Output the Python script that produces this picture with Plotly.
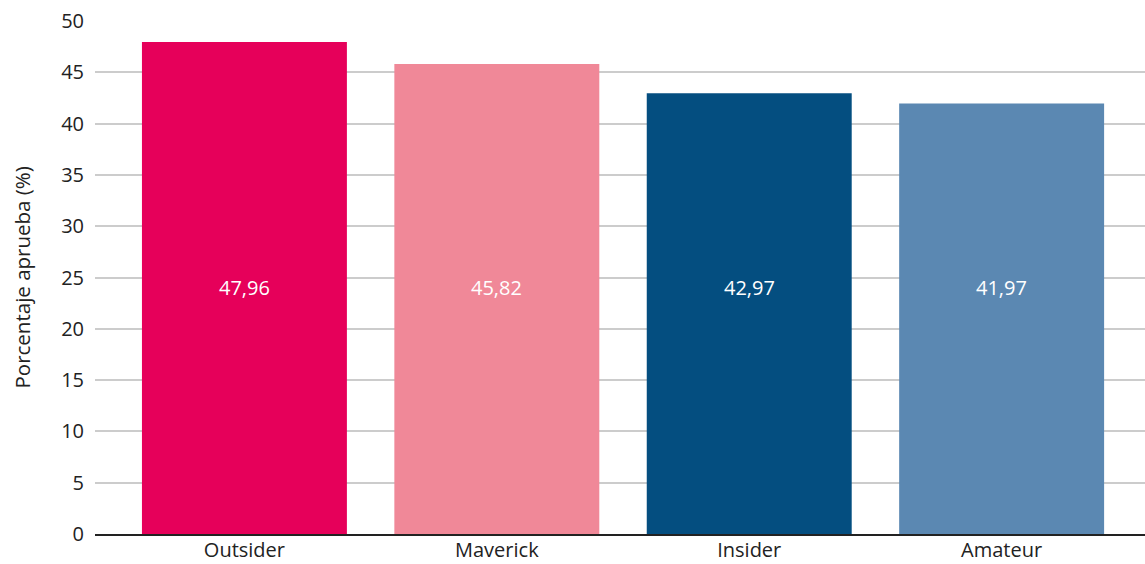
import plotly.graph_objects as go

categorias = ["Outsider", "Maverick", "Insider", "Amateur"]
porcentajes = [47.96, 45.82, 42.97, 41.97]
colores = ["#E6005A", "#F08898", "#044E80", "#5B88B2"]
y_ticks = [0, 5, 10, 15, 20, 25, 30, 35, 40, 45, 50]

FONT = "Open Sans"
TEXT_COLOR = "#222222"

fig = go.Figure(
    go.Bar(
        x=categorias,
        y=porcentajes,
        marker=dict(color=colores, line=dict(width=0)),
        showlegend=False,
        hoverinfo="skip",
    )
)

# value labels, all drawn on one common line inside the bars
nivel_etiquetas = max(porcentajes) / 2
for cat, val in zip(categorias, porcentajes):
    fig.add_annotation(
        x=cat,
        y=nivel_etiquetas,
        text=f"{val:.2f}".replace(".", ","),
        showarrow=False,
        xanchor="center",
        yanchor="middle",
        font=dict(family=FONT, size=20, color="white"),
    )

# rotated y-axis title
fig.add_annotation(
    xref="paper",
    yref="paper",
    x=(21 - 95) / 1050,
    y=0.5,
    text="Porcentaje aprueba (%)",
    textangle=-90,
    showarrow=False,
    xanchor="center",
    yanchor="middle",
    font=dict(family=FONT, size=20.5, color=TEXT_COLOR),
)

fig.update_layout(
    width=1145,
    height=564,
    margin=dict(l=95, r=0, t=21, b=30),
    paper_bgcolor="white",
    plot_bgcolor="white",
    separators=",.",
    bargap=0.188,
    font=dict(family=FONT, size=20, color=TEXT_COLOR),
)

fig.update_xaxes(
    range=[-0.592, 3.568],
    automargin=False,
    showgrid=False,
    showline=True,
    linecolor=TEXT_COLOR,
    linewidth=2,
    ticks="",
    ticklabelstandoff=-3,
    tickfont=dict(family=FONT, size=20, color=TEXT_COLOR),
)

fig.update_yaxes(
    range=[0, 50],
    automargin=False,
    tickvals=y_ticks,
    showgrid=True,
    gridcolor="#CCCCCC",
    gridwidth=2,
    zeroline=False,
    showline=False,
    ticks="",
    ticklabelstandoff=10,
    tickfont=dict(family=FONT, size=20, color=TEXT_COLOR),
)

fig.write_html("out.html")
